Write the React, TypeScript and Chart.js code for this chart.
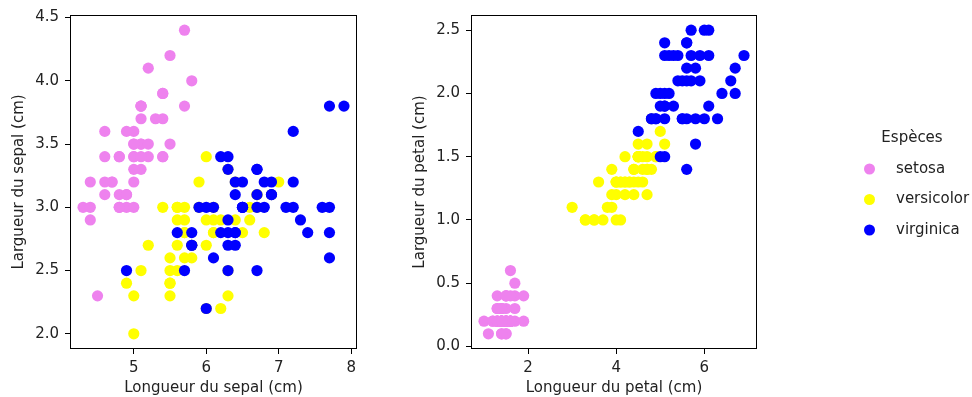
import React, { useEffect, useRef } from 'react';
import { Chart, registerables } from 'chart.js';

Chart.register(...registerables);

// ---- Iris data ----
const setosaSepalLength = [5.1,4.9,4.7,4.6,5.0,5.4,4.6,5.0,4.4,4.9,5.4,4.8,4.8,4.3,5.8,5.7,5.4,5.1,5.7,5.1,5.4,5.1,4.6,5.1,4.8,5.0,5.0,5.2,5.2,4.7,4.8,5.4,5.2,5.5,4.9,5.0,5.5,4.9,4.4,5.1,5.0,4.5,4.4,5.0,5.1,4.8,5.1,4.6,5.3,5.0];
const setosaSepalWidth = [3.5,3.0,3.2,3.1,3.6,3.9,3.4,3.4,2.9,3.1,3.7,3.4,3.0,3.0,4.0,4.4,3.9,3.5,3.8,3.8,3.4,3.7,3.6,3.3,3.4,3.0,3.4,3.5,3.4,3.2,3.1,3.4,4.1,4.2,3.1,3.2,3.5,3.6,3.0,3.4,3.5,2.3,3.2,3.5,3.8,3.0,3.8,3.2,3.7,3.3];
const setosaPetalLength = [1.4,1.4,1.3,1.5,1.4,1.7,1.4,1.5,1.4,1.5,1.5,1.6,1.4,1.1,1.2,1.5,1.3,1.4,1.7,1.5,1.7,1.5,1.0,1.7,1.9,1.6,1.6,1.5,1.4,1.6,1.6,1.5,1.5,1.4,1.5,1.2,1.3,1.4,1.3,1.5,1.3,1.3,1.3,1.6,1.9,1.4,1.6,1.4,1.5,1.4];
const setosaPetalWidth = [0.2,0.2,0.2,0.2,0.2,0.4,0.3,0.2,0.2,0.1,0.2,0.2,0.1,0.1,0.2,0.4,0.4,0.3,0.3,0.3,0.2,0.4,0.2,0.5,0.2,0.2,0.4,0.2,0.2,0.2,0.2,0.4,0.1,0.2,0.2,0.2,0.2,0.1,0.2,0.2,0.3,0.3,0.2,0.6,0.4,0.3,0.2,0.2,0.2,0.2];

const versicolorSepalLength = [7.0,6.4,6.9,5.5,6.5,5.7,6.3,4.9,6.6,5.2,5.0,5.9,6.0,6.1,5.6,6.7,5.6,5.8,6.2,5.6,5.9,6.1,6.3,6.1,6.4,6.6,6.8,6.7,6.0,5.7,5.5,5.5,5.8,6.0,5.4,6.0,6.7,6.3,5.6,5.5,5.5,6.1,5.8,5.0,5.6,5.7,5.7,6.2,5.1,5.7];
const versicolorSepalWidth = [3.2,3.2,3.1,2.3,2.8,2.8,3.3,2.4,2.9,2.7,2.0,3.0,2.2,2.9,2.9,3.1,3.0,2.7,2.2,2.5,3.2,2.8,2.5,2.8,2.9,3.0,2.8,3.0,2.9,2.6,2.4,2.4,2.7,2.7,3.0,3.4,3.1,2.3,3.0,2.5,2.6,3.0,2.6,2.3,2.7,3.0,2.9,2.9,2.5,2.8];
const versicolorPetalLength = [4.7,4.5,4.9,4.0,4.6,4.5,4.7,3.3,4.6,3.9,3.5,4.2,4.0,4.7,3.6,4.4,4.5,4.1,4.5,3.9,4.8,4.0,4.9,4.7,4.3,4.4,4.8,5.0,4.5,3.5,3.8,3.7,3.9,5.1,4.5,4.5,4.7,4.4,4.1,4.0,4.4,4.6,4.0,3.3,4.2,4.2,4.2,4.3,3.0,4.1];
const versicolorPetalWidth = [1.4,1.5,1.5,1.3,1.5,1.3,1.6,1.0,1.3,1.4,1.0,1.5,1.0,1.4,1.3,1.4,1.5,1.0,1.5,1.1,1.8,1.3,1.5,1.2,1.3,1.4,1.4,1.7,1.5,1.0,1.1,1.0,1.2,1.6,1.5,1.6,1.5,1.3,1.3,1.3,1.2,1.4,1.2,1.0,1.3,1.2,1.3,1.3,1.1,1.3];

const virginicaSepalLength = [6.3,5.8,7.1,6.3,6.5,7.6,4.9,7.3,6.7,7.2,6.5,6.4,6.8,5.7,5.8,6.4,6.5,7.7,7.7,6.0,6.9,5.6,7.7,6.3,6.7,7.2,6.2,6.1,6.4,7.2,7.4,7.9,6.4,6.3,6.1,7.7,6.3,6.4,6.0,6.9,6.7,6.9,5.8,6.8,6.7,6.7,6.3,6.5,6.2,5.9];
const virginicaSepalWidth = [3.3,2.7,3.0,2.9,3.0,3.0,2.5,2.9,2.5,3.6,3.2,2.7,3.0,2.5,2.8,3.2,3.0,3.8,2.6,2.2,3.2,2.8,2.8,2.7,3.3,3.2,2.8,3.0,2.8,3.0,2.8,3.8,2.8,2.8,2.6,3.0,3.4,3.1,3.0,3.1,3.1,3.1,2.7,3.2,3.3,3.0,2.5,3.0,3.4,3.0];
const virginicaPetalLength = [6.0,5.1,5.9,5.6,5.8,6.6,4.5,6.3,5.8,6.1,5.1,5.3,5.5,5.0,5.1,5.3,5.5,6.7,6.9,5.0,5.7,4.9,6.7,4.9,5.7,6.0,4.8,4.9,5.6,5.8,6.1,6.4,5.6,5.1,5.6,6.1,5.6,5.5,4.8,5.4,5.6,5.1,5.1,5.9,5.7,5.2,5.0,5.2,5.4,5.1];
const virginicaPetalWidth = [2.5,1.9,2.1,1.8,2.2,2.1,1.7,1.8,1.8,2.5,2.0,1.9,2.1,2.0,2.4,2.3,1.8,2.2,2.3,1.5,2.3,2.0,2.0,1.8,2.1,1.8,1.8,1.8,2.1,1.6,1.9,2.0,2.2,1.5,1.4,2.3,2.4,1.8,1.8,2.1,2.4,2.3,1.9,2.3,2.5,2.3,1.9,2.0,2.3,1.8];

const speciesNames = ['setosa', 'versicolor', 'virginica'];
const speciesColors = ['#ee82ee', '#ffff00', '#0000ff'];
const legendTitle = 'Espèces';

const sepalXTicks = [5, 6, 7, 8];
const sepalYTicks = [2.0, 2.5, 3.0, 3.5, 4.0, 4.5];
const petalXTicks = [2, 4, 6];
const petalYTicks = [0.0, 0.5, 1.0, 1.5, 2.0, 2.5];

const sepalXLabel = 'Longueur du sepal (cm)';
const sepalYLabel = 'Largueur du sepal (cm)';
const petalXLabel = 'Longueur du petal (cm)';
const petalYLabel = 'Largueur du petal (cm)';

const FONT = '"DejaVu Sans", sans-serif';
const TEXT_COLOR = '#222';
const FONT_SIZE = 15;

function pts(xs: number[], ys: number[]) {
  return xs.map((x, i) => ({ x, y: ys[i] }));
}

function pad(vals: number[]) {
  const mn = Math.min(...vals);
  const mx = Math.max(...vals);
  const m = (mx - mn) * 0.05;
  return [mn - m, mx + m];
}

const framePlugin = {
  id: 'frame',
  afterDraw(chart: any) {
    const { ctx, chartArea } = chart;
    const l = Math.round(chartArea.left) + 0.5;
    const t = Math.round(chartArea.top) + 0.5;
    const r = Math.round(chartArea.right) - 0.5;
    const b = Math.round(chartArea.bottom) - 0.5;
    ctx.save();
    ctx.strokeStyle = '#000';
    ctx.lineWidth = 1;
    ctx.strokeRect(l, t, r - l, b - t);
    ctx.restore();
  },
};

function makeLegendPlugin(offsetX: number) {
  return {
    id: 'customLegend',
    afterDraw(chart: any) {
      const ctx = chart.ctx;
      ctx.save();
      ctx.font = `${FONT_SIZE}px ${FONT}`;
      ctx.fillStyle = TEXT_COLOR;
      ctx.textAlign = 'center';
      ctx.textBaseline = 'alphabetic';
      ctx.fillText(legendTitle, 912 - offsetX, 141.5);
      ctx.textAlign = 'left';
      ctx.textBaseline = 'middle';
      speciesNames.forEach((name, i) => {
        const y = 169 + i * 30.5;
        ctx.beginPath();
        ctx.fillStyle = speciesColors[i];
        ctx.arc(869.5 - offsetX, y, 5.5, 0, Math.PI * 2);
        ctx.fill();
        ctx.fillStyle = TEXT_COLOR;
        ctx.fillText(name, 896 - offsetX, y);
      });
      ctx.restore();
    },
  };
}

function buildConfig(
  xs: number[][],
  ys: number[][],
  xTicks: number[],
  yTicks: number[],
  xLabel: string,
  yLabel: string,
  yAxisWidth: number,
  padRight: number,
  yTitlePad: number,
  xDecimals: number,
  yDecimals: number,
  plugins: any[]
): any {
  const allX = ([] as number[]).concat(...xs);
  const allY = ([] as number[]).concat(...ys);
  const [xmin, xmax] = pad(allX);
  const [ymin, ymax] = pad(allY);
  const tickFont = { family: FONT, size: FONT_SIZE };
  return {
    type: 'scatter',
    data: {
      datasets: speciesNames.map((name, i) => ({
        label: name,
        data: pts(xs[i], ys[i]),
        backgroundColor: speciesColors[i],
        borderWidth: 0,
        pointRadius: 5.6,
        pointHoverRadius: 5.6,
        order: 3 - i,
      })),
    },
    options: {
      responsive: false,
      animation: false,
      devicePixelRatio: 1,
      layout: { padding: { left: 0, top: 15, right: padRight, bottom: 0 } },
      plugins: { legend: { display: false }, tooltip: { enabled: false } },
      scales: {
        x: {
          type: 'linear',
          min: xmin,
          max: xmax,
          afterBuildTicks: (axis: any) => {
            axis.ticks = xTicks.map((v) => ({ value: v }));
          },
          afterFit: (scale: any) => {
            scale.height = 48;
          },
          grid: { display: true, drawOnChartArea: false, drawTicks: true, tickLength: 5, color: '#000', lineWidth: 1 },
          border: { display: false },
          ticks: {
            autoSkip: false,
            maxRotation: 0,
            padding: 5,
            color: TEXT_COLOR,
            font: tickFont,
            callback: (v: any) => Number(v).toFixed(xDecimals),
          },
          title: {
            display: true,
            text: xLabel,
            color: TEXT_COLOR,
            font: { family: FONT, size: FONT_SIZE },
            padding: { top: 0, bottom: 0 },
          },
        },
        y: {
          type: 'linear',
          min: ymin,
          max: ymax,
          afterBuildTicks: (axis: any) => {
            axis.ticks = yTicks.map((v) => ({ value: v }));
          },
          afterFit: (scale: any) => {
            scale.width = yAxisWidth;
          },
          grid: { display: true, drawOnChartArea: false, drawTicks: true, tickLength: 5, color: '#000', lineWidth: 1 },
          border: { display: false },
          ticks: {
            autoSkip: false,
            padding: 6,
            color: TEXT_COLOR,
            font: tickFont,
            callback: (v: any) => Number(v).toFixed(yDecimals),
          },
          title: {
            display: true,
            text: yLabel,
            color: TEXT_COLOR,
            font: { family: FONT, size: FONT_SIZE },
            padding: { top: yTitlePad, bottom: 0 },
          },
        },
      },
    },
    plugins: [framePlugin, ...plugins],
  };
}

export default function App() {
  const leftRef = useRef<HTMLCanvasElement>(null);
  const rightRef = useRef<HTMLCanvasElement>(null);

  useEffect(() => {
    const left = new Chart(
      leftRef.current as HTMLCanvasElement,
      buildConfig(
        [setosaSepalLength, versicolorSepalLength, virginicaSepalLength],
        [setosaSepalWidth, versicolorSepalWidth, virginicaSepalWidth],
        sepalXTicks,
        sepalYTicks,
        sepalXLabel,
        sepalYLabel,
        70,
        43,
        10.5,
        0,
        1,
        []
      )
    );
    const right = new Chart(
      rightRef.current as HTMLCanvasElement,
      buildConfig(
        [setosaPetalLength, versicolorPetalLength, virginicaPetalLength],
        [setosaPetalWidth, versicolorPetalWidth, virginicaPetalWidth],
        petalXTicks,
        petalYTicks,
        petalXLabel,
        petalYLabel,
        71,
        215,
        11,
        0,
        1,
        [makeLegendPlugin(400)]
      )
    );
    return () => {
      left.destroy();
      right.destroy();
    };
  }, []);

  return (
    <div style={{ position: 'absolute', left: 0, top: 0, width: 972, height: 397, background: '#fff', overflow: 'hidden' }}>
      <canvas ref={leftRef} width={400} height={397} style={{ position: 'absolute', left: 0, top: 0, width: 400, height: 397 }} />
      <canvas ref={rightRef} width={572} height={397} style={{ position: 'absolute', left: 400, top: 0, width: 572, height: 397 }} />
    </div>
  );
}
